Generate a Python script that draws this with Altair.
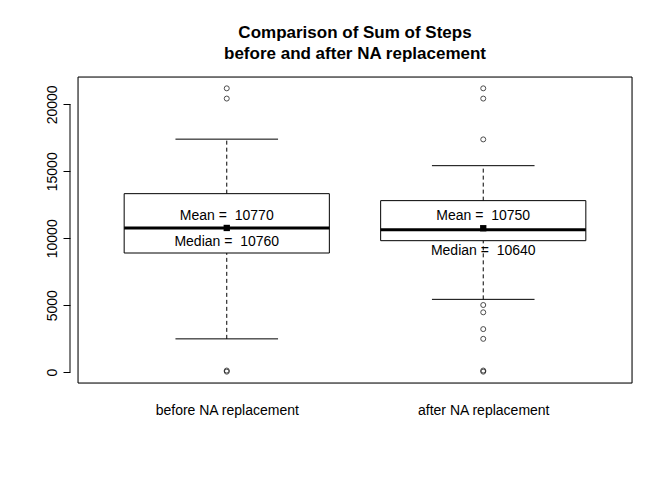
import altair as alt
import pandas as pd

groups = ["before NA replacement", "after NA replacement"]
pos = [1, 2]
q1 = [8900, 9820]
median = [10760, 10640]
q3 = [13330, 12810]
wlo = [2490, 5440]
whi = [17400, 15420]
means = [10770, 10750]
out_before = [41, 126, 20430, 21194]
out_after = [41, 126, 2492, 3219, 4472, 5018, 17382, 20430, 21194]

box = pd.DataFrame({"g": groups, "pos": pos, "q1": q1, "med": median, "q3": q3,
                    "wlo": wlo, "whi": whi, "mean": means})
box["x0"] = box["pos"] - 0.4
box["x1"] = box["pos"] + 0.4
box["c0"] = box["pos"] - 0.2
box["c1"] = box["pos"] + 0.2
box["mean_lab"] = ["Mean =\u00a0 %d" % m for m in means]
box["med_lab"] = ["Median =\u00a0 %d" % m for m in median]
outs = pd.DataFrame({"pos": [1]*len(out_before) + [2]*len(out_after),
                     "v": out_before + out_after})

F = "Liberation Sans"
xs = alt.Scale(domain=[0.42, 2.58], nice=False, zero=False)
ys = alt.Scale(domain=[-805, 22040], nice=False, zero=False)
xax = alt.Axis(values=[1, 2], title=None, domain=False, ticks=False, grid=False,
               labelExpr="datum.value==1?'before NA replacement':'after NA replacement'",
               labelFont=F, labelFontSize=14, labelColor="black", labelPadding=20)
yax = alt.Axis(values=[0, 5000, 10000, 15000, 20000], title=None, grid=False, domain=False,
               format="d", labelAngle=-90, labelAlign="center", labelBaseline="bottom", offset=8,
               tickColor="black", tickSize=7, labelFont=F, labelFontSize=14,
               labelColor="black", labelPadding=4)

base = alt.Chart(box)
yaxline = alt.Chart(pd.DataFrame({"a": [0], "b": [20000]})).mark_rule(color="black").encode(
    x=alt.value(-8), y=alt.Y("a:Q", scale=ys), y2="b:Q")
frame = alt.Chart(pd.DataFrame({"a": [0]})).mark_rect(fill=None, stroke="black", strokeWidth=1).encode(
    x=alt.value(0), x2=alt.value(554), y=alt.value(0), y2=alt.value(306))
wh_hi = base.mark_rule(color="black", strokeDash=[4, 3]).encode(
    x=alt.X("pos:Q", scale=xs, axis=xax), y=alt.Y("q3:Q", scale=ys, axis=yax), y2="whi:Q")
wh_lo = base.mark_rule(color="black", strokeDash=[4, 3]).encode(
    x=alt.X("pos:Q", scale=xs), y=alt.Y("wlo:Q", scale=ys), y2="q1:Q")
cap_hi = base.mark_rule(color="black").encode(x=alt.X("c0:Q", scale=xs), x2="c1:Q",
                                               y=alt.Y("whi:Q", scale=ys))
cap_lo = base.mark_rule(color="black").encode(x=alt.X("c0:Q", scale=xs), x2="c1:Q",
                                               y=alt.Y("wlo:Q", scale=ys))
rect = base.mark_rect(fill="white", stroke="black", strokeWidth=1).encode(
    x=alt.X("x0:Q", scale=xs), x2="x1:Q", y=alt.Y("q1:Q", scale=ys), y2="q3:Q")
med = base.mark_rule(color="black", strokeWidth=3).encode(
    x=alt.X("x0:Q", scale=xs), x2="x1:Q", y=alt.Y("med:Q", scale=ys))
pts = alt.Chart(outs).mark_point(shape="circle", color="black", size=25, strokeWidth=1).encode(
    x=alt.X("pos:Q", scale=xs), y=alt.Y("v:Q", scale=ys))
mpt = base.mark_square(color="black", size=40, opacity=1).encode(
    x=alt.X("pos:Q", scale=xs), y=alt.Y("mean:Q", scale=ys))
mt = base.mark_text(font=F, fontSize=14, color="black", dy=-12).encode(
    x=alt.X("pos:Q", scale=xs), y=alt.Y("mean:Q", scale=ys), text="mean_lab:N")
mdt1 = alt.Chart(box.iloc[[0]]).mark_text(font=F, fontSize=14, color="black", dy=14).encode(
    x=alt.X("pos:Q", scale=xs), y=alt.Y("med:Q", scale=ys), text="med_lab:N")
mdt2 = alt.Chart(box.iloc[[1]]).mark_text(font=F, fontSize=14, color="black", dy=21).encode(
    x=alt.X("pos:Q", scale=xs), y=alt.Y("med:Q", scale=ys), text="med_lab:N")

chart = alt.layer(wh_hi, wh_lo, cap_hi, cap_lo, rect, med, pts, mpt, mt, mdt1, mdt2, yaxline, frame).properties(
    width=554, height=306,
    title=alt.TitleParams(["Comparison of Sum of Steps", "before and after NA replacement"],
                          font=F, fontSize=17, fontWeight="bold", color="black",
                          anchor="middle", offset=14, lineHeight=21),
    autosize=alt.AutoSizeParams(type="none"),
    padding={"left": 70, "top": 69, "right": 32, "bottom": 89},
).configure_view(stroke=None).configure(background="white")

chart.save("out.html", embed_options={"renderer": "svg", "actions": False})
